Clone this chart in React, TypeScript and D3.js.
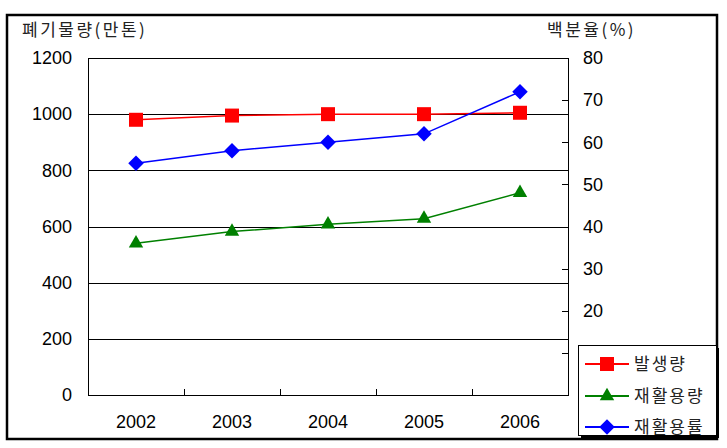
import React, { useEffect, useRef } from 'react';
import * as d3 from 'd3';

const years = ['2002', '2003', '2004', '2005', '2006'];
const generated = [980, 995, 1000, 1000, 1005]; // 발생량 (만톤)
const recycled = [540, 582, 608, 628, 720]; // 재활용량 (만톤)
const recycleRate = [55, 58, 60, 62, 72]; // 재활용률 (%)
const leftTicks = [0, 200, 400, 600, 800, 1000, 1200];
const rightTicks = [0, 10, 20, 30, 40, 50, 60, 70, 80];

const W = 727;
const H = 448;
const KR = '"Noto Sans CJK KR", "Noto Sans", sans-serif';
const NUM = '"Liberation Sans", Arial, sans-serif';

const App: React.FC = () => {
  const svgRef = useRef<SVGSVGElement>(null);

  useEffect(() => {
    if (!svgRef.current) return;
    const svg = d3.select(svgRef.current);
    svg.selectAll('*').remove();

    const plot = { left: 88, right: 568, top: 58, bottom: 395 };

    // outer frame
    svg.append('rect')
      .attr('x', 7).attr('y', 15).attr('width', 710).attr('height', 424)
      .attr('fill', 'white').attr('stroke', 'black').attr('stroke-width', 2.5);

    const x = d3.scaleBand().domain(years).range([plot.left, plot.right]);
    const yL = d3.scaleLinear().domain([0, 1200]).range([plot.bottom, plot.top]);
    const yR = d3.scaleLinear().domain([0, 80]).range([plot.bottom, plot.top]);

    // gridlines
    svg.append('g').selectAll('line')
      .data(leftTicks.filter(d => d > 0 && d < 1200))
      .enter().append('line')
      .attr('x1', plot.left).attr('x2', plot.right)
      .attr('y1', d => Math.round(yL(d)) + 0.5).attr('y2', d => Math.round(yL(d)) + 0.5)
      .attr('stroke', 'black').attr('stroke-width', 1);

    // plot border
    svg.append('rect')
      .attr('x', plot.left + 0.5).attr('y', plot.top + 0.5)
      .attr('width', plot.right - plot.left).attr('height', plot.bottom - plot.top)
      .attr('fill', 'none').attr('stroke', 'black').attr('stroke-width', 1);

    // x ticks between categories
    svg.append('g').selectAll('line')
      .data(years.slice(1))
      .enter().append('line')
      .attr('x1', d => Math.round(x(d)!) + 0.5).attr('x2', d => Math.round(x(d)!) + 0.5)
      .attr('y1', plot.bottom + 0.5).attr('y2', plot.bottom - 6)
      .attr('stroke', 'black');

    // right axis ticks
    svg.append('g').selectAll('line')
      .data(rightTicks.slice(1, -1))
      .enter().append('line')
      .attr('x1', plot.right + 0.5).attr('x2', plot.right - 6)
      .attr('y1', d => Math.round(yR(d)) + 0.5).attr('y2', d => Math.round(yR(d)) + 0.5)
      .attr('stroke', 'black');

    // left labels
    svg.append('g').selectAll('text')
      .data(leftTicks)
      .enter().append('text')
      .attr('x', 72).attr('y', d => yL(d))
      .attr('dy', '0.35em').attr('text-anchor', 'end')
      .style('font-family', NUM).style('font-size', '18px')
      .text(d => d);

    // right labels
    svg.append('g').selectAll('text')
      .data(rightTicks)
      .enter().append('text')
      .attr('x', 583).attr('y', d => yR(d))
      .attr('dy', '0.35em').attr('text-anchor', 'start')
      .style('font-family', NUM).style('font-size', '18px')
      .text(d => d);

    // x labels
    svg.append('g').selectAll('text')
      .data(years)
      .enter().append('text')
      .attr('x', d => x(d)! + x.bandwidth() / 2).attr('y', 422)
      .attr('dy', '0.35em').attr('text-anchor', 'middle')
      .style('font-family', NUM).style('font-size', '18px')
      .text(d => d);

    // axis titles
    svg.append('text')
      .attr('x', 22).attr('y', 30).attr('dy', '0.35em')
      .style('font-family', KR).style('font-size', '17px').style('letter-spacing', '2.5px')
      .attr('fill', '#222')
      .text('폐기물량(만톤)');
    svg.append('text')
      .attr('x', 547).attr('y', 30).attr('dy', '0.35em')
      .style('font-family', KR).style('font-size', '17px').style('letter-spacing', '2.5px')
      .attr('fill', '#222')
      .text('백분율(%)');

    const cx = (i: number) => x(years[i])! + x.bandwidth() / 2;

    const series = [
      { name: '발생량', values: generated, y: yL, color: '#ff0000', symbol: d3.symbolSquare, size: 196, rotate: 0 },
      { name: '재활용량', values: recycled, y: yL, color: '#008000', symbol: d3.symbolTriangle, size: 90, rotate: 0 },
      { name: '재활용률', values: recycleRate, y: yR, color: '#0000ff', symbol: d3.symbolSquare, size: 121, rotate: 45 },
    ];

    series.forEach(s => {
      const line = d3.line<number>().x((_, i) => cx(i)).y(d => s.y(d));
      svg.append('path')
        .attr('d', line(s.values)!)
        .attr('fill', 'none').attr('stroke', s.color).attr('stroke-width', 1.5);
      svg.append('g').selectAll('path')
        .data(s.values)
        .enter().append('path')
        .attr('transform', (d, i) => `translate(${cx(i)},${s.y(d)}) rotate(${s.rotate})`)
        .attr('d', d3.symbol().type(s.symbol).size(s.size)()!)
        .attr('fill', s.color);
    });

    // legend
    const lg = svg.append('g');
    lg.append('rect')
      .attr('x', 581).attr('y', 348).attr('width', 138).attr('height', 90)
      .attr('fill', 'black');
    lg.append('rect')
      .attr('x', 578.5).attr('y', 345.5).attr('width', 138).attr('height', 90)
      .attr('fill', 'white').attr('stroke', 'black').attr('stroke-width', 1);

    const legendY = [364, 396, 427];
    series.forEach((s, i) => {
      const yy = legendY[i];
      lg.append('line')
        .attr('x1', 585).attr('x2', 629).attr('y1', yy).attr('y2', yy)
        .attr('stroke', s.color).attr('stroke-width', 2);
      lg.append('path')
        .attr('transform', `translate(607,${yy}) rotate(${s.rotate})`)
        .attr('d', d3.symbol().type(s.symbol).size(s.size)()!)
        .attr('fill', s.color);
      lg.append('text')
        .attr('x', 634).attr('y', yy).attr('dy', '0.35em')
        .style('font-family', KR).style('font-size', '17px').style('letter-spacing', '2px')
        .attr('fill', '#222')
        .text(s.name);
    });
  }, []);

  return (
    <div style={{ position: 'absolute', left: 0, top: 0 }}>
      <svg ref={svgRef} width={W} height={H} style={{ display: 'block', background: 'white' }} />
    </div>
  );
};

export default App;
